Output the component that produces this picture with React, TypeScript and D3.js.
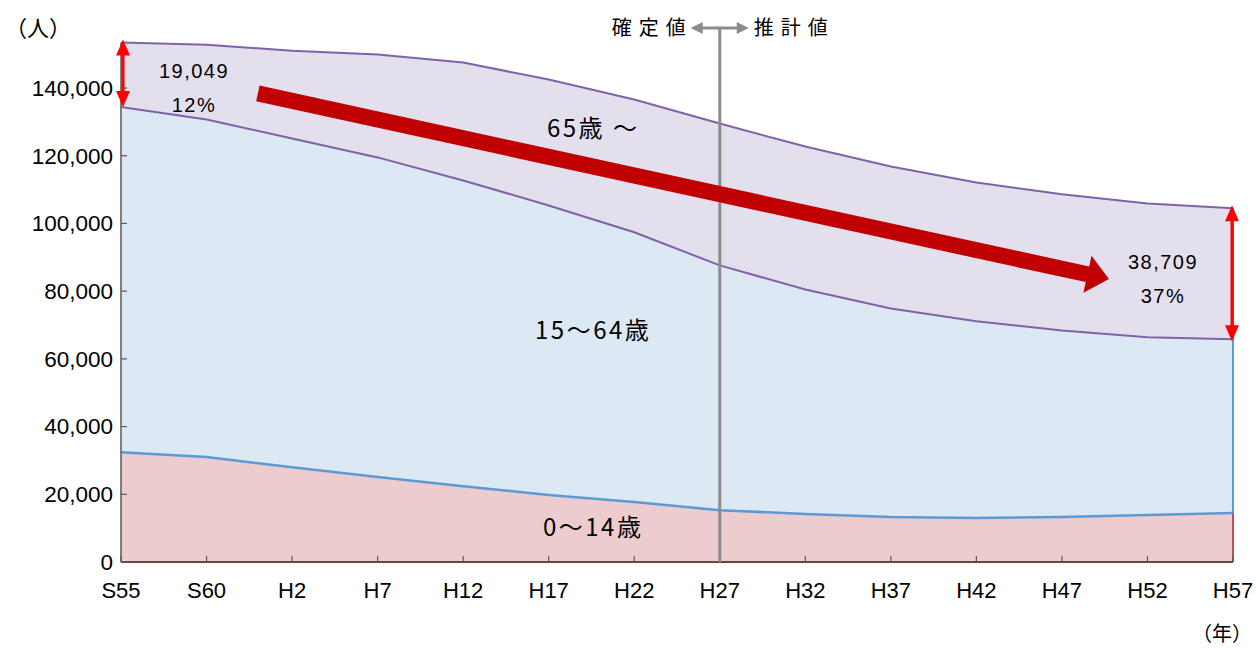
import { useEffect, useRef } from "react";
import * as d3 from "d3";

const years = ["S55", "S60", "H2", "H7", "H12", "H17", "H22", "H27", "H32", "H37", "H42", "H47", "H52", "H57"];
const youth = [32400, 31000, 28000, 25100, 22400, 19800, 17700, 15300, 14200, 13300, 13000, 13300, 13900, 14500];
const working = [102000, 99700, 97100, 94400, 90300, 85500, 79700, 72300, 66300, 61600, 58100, 55100, 52500, 51300];
const elderly = [19049, 22100, 25900, 30400, 34800, 37200, 39200, 41900, 42200, 41900, 41000, 40200, 39500, 38709];
const yTicks = [0, 20000, 40000, 60000, 80000, 100000, 120000, 140000];
const seriesLabels = ["0～14歳", "15～64歳", "65歳 ～"];

const JP = "'Noto Sans CJK JP', 'Liberation Sans', sans-serif";
const NUM = "'Liberation Sans', Arial, sans-serif";

const App: React.FC = () => {
  const svgRef = useRef<SVGSVGElement>(null);

  useEffect(() => {
    const svg = d3.select(svgRef.current);
    svg.selectAll("*").remove();

    const width = 1256;
    const height = 648;
    const margin = { top: 88, right: 23, bottom: 86, left: 121 };

    const x = d3.scalePoint<string>().domain(years).range([margin.left, width - margin.right]);
    const xi = d3.scaleLinear().domain([0, years.length - 1]).range([margin.left, width - margin.right]);
    const y = d3.scaleLinear().domain([0, 140000]).range([height - margin.bottom, margin.top]);

    const rows = years.map((yr, i) => ({ yr, youth: youth[i], working: working[i], elderly: elderly[i] }));
    const keys = ["youth", "working", "elderly"];
    const stacked = d3.stack<any>().keys(keys)(rows);

    const fills = ["#ecccce", "#dce8f4", "#e4dfec"];
    const lineColors = ["#5b9bd5", "#7e63a8", "#7e63a8"];

    const area = d3.area<any>().x((d) => x(d.data.yr)!).y0((d) => y(d[0])).y1((d) => y(d[1]));
    const line = d3.line<any>().x((d) => x(d.data.yr)!).y((d) => y(d[1]));

    stacked.forEach((s, i) => {
      svg.append("path").datum(s).attr("fill", fills[i]).attr("d", area);
    });

    // right edges of each layer
    const last = years.length - 1;
    const edgeColors = ["#c0504d", "#5b9bd5", "#7e63a8"];
    stacked.forEach((s, i) => {
      svg.append("line")
        .attr("x1", x(years[last])!).attr("x2", x(years[last])!)
        .attr("y1", y(s[last][0])).attr("y2", y(s[last][1]))
        .attr("stroke", edgeColors[i]).attr("stroke-width", 2);
    });

    // boundary lines
    stacked.forEach((s, i) => {
      svg.append("path").datum(s).attr("fill", "none").attr("stroke", lineColors[i])
        .attr("stroke-width", i === 0 ? 2.5 : 2).attr("d", line);
    });

    // axes
    const axisColor = "#595959";
    const baseY = y(0);
    svg.append("line").attr("x1", margin.left).attr("x2", width - margin.right)
      .attr("y1", baseY).attr("y2", baseY).attr("stroke", "#6b4545").attr("stroke-width", 2);
    svg.append("line").attr("x1", margin.left).attr("x2", margin.left)
      .attr("y1", baseY).attr("y2", y(elderly[0] + working[0] + youth[0])).attr("stroke", axisColor).attr("stroke-width", 1.5);

    yTicks.forEach((t) => {
      svg.append("line").attr("x1", margin.left).attr("x2", margin.left + 6)
        .attr("y1", y(t)).attr("y2", y(t)).attr("stroke", axisColor).attr("stroke-width", 1.2);
      svg.append("text").attr("x", margin.left - 8).attr("y", y(t)).attr("dy", "0.35em")
        .attr("text-anchor", "end").attr("font-family", NUM).attr("font-size", 22.5).attr("fill", "#000")
        .text(d3.format(",")(t));
    });

    years.forEach((yr) => {
      svg.append("line").attr("x1", x(yr)!).attr("x2", x(yr)!)
        .attr("y1", baseY).attr("y2", baseY - 6).attr("stroke", axisColor).attr("stroke-width", 1.2);
      svg.append("text").attr("x", x(yr)!).attr("y", baseY + 36)
        .attr("text-anchor", "middle").attr("font-family", NUM).attr("font-size", 22).attr("fill", "#000")
        .text(yr);
    });

    svg.append("text").attr("x", 38).attr("y", 36).attr("text-anchor", "middle")
      .attr("font-family", JP).attr("font-size", 22).text("（人）");
    svg.append("text").attr("x", 1222).attr("y", 641).attr("text-anchor", "middle")
      .attr("font-family", JP).attr("font-size", 20).text("（年）");

    // boundary between actual and estimate
    const xb = x("H27")!;
    const gray = "#8c8c8c";
    svg.append("line").attr("x1", xb).attr("x2", xb).attr("y1", 28).attr("y2", baseY)
      .attr("stroke", gray).attr("stroke-width", 3);
    svg.append("line").attr("x1", xb - 20).attr("x2", xb + 20).attr("y1", 28).attr("y2", 28)
      .attr("stroke", gray).attr("stroke-width", 3);
    svg.append("path").attr("d", `M${xb - 29},28 L${xb - 17},22 L${xb - 17},34 Z`).attr("fill", gray);
    svg.append("path").attr("d", `M${xb + 29},28 L${xb + 17},22 L${xb + 17},34 Z`).attr("fill", gray);
    svg.append("text").attr("x", xb - 108).attr("y", 28).attr("dy", "0.35em").attr("text-anchor", "start")
      .attr("font-family", JP).attr("font-size", 20).attr("letter-spacing", 7).text("確定値");
    svg.append("text").attr("x", xb + 34).attr("y", 28).attr("dy", "0.35em").attr("text-anchor", "start")
      .attr("font-family", JP).attr("font-size", 20).attr("letter-spacing", 7).text("推計値");

    // big trend arrow
    const ax1 = xi(1.6), ay1 = y(138400), ax2 = xi(11.55), ay2 = y(83600);
    const ang = Math.atan2(ay2 - ay1, ax2 - ax1);
    const headLen = 22, bodyHalf = 8, headHalf = 19;
    const bx = ax2 - headLen * Math.cos(ang), by = ay2 - headLen * Math.sin(ang);
    const nx = -Math.sin(ang), ny = Math.cos(ang);
    const pts: [number, number][] = [
      [ax1 + nx * bodyHalf, ay1 + ny * bodyHalf],
      [bx + nx * bodyHalf, by + ny * bodyHalf],
      [bx + nx * headHalf, by + ny * headHalf],
      [ax2, ay2],
      [bx - nx * headHalf, by - ny * headHalf],
      [bx - nx * bodyHalf, by - ny * bodyHalf],
      [ax1 - nx * bodyHalf, ay1 - ny * bodyHalf],
    ];
    svg.append("path").attr("d", "M" + pts.map((p) => p.join(",")).join("L") + "Z").attr("fill", "#c00000");

    // red double arrows for elderly share
    const dbl = (xp: number, yTop: number, yBot: number) => {
      svg.append("line").attr("x1", xp).attr("x2", xp).attr("y1", yTop + 10).attr("y2", yBot - 10)
        .attr("stroke", "#ff0000").attr("stroke-width", 3);
      svg.append("path").attr("d", `M${xp},${yTop} L${xp - 7},${yTop + 16} L${xp + 7},${yTop + 16} Z`).attr("fill", "#ff0000");
      svg.append("path").attr("d", `M${xp},${yBot} L${xp - 7},${yBot - 16} L${xp + 7},${yBot - 16} Z`).attr("fill", "#ff0000");
    };
    const s2 = stacked[2];
    dbl(x(years[0])! + 2, y(s2[0][1]) - 3, y(s2[0][0]));
    dbl(x(years[last])! - 1, y(s2[last][1]) - 3, y(s2[last][0]) + 2);

    const pct = (i: number) => Math.round((elderly[i] / (youth[i] + working[i] + elderly[i])) * 100) + "%";
    const annot = (cx: number, cy1: number, i: number) => {
      svg.append("text").attr("x", cx).attr("y", cy1).attr("dy", "0.35em").attr("text-anchor", "middle")
        .attr("font-family", NUM).attr("font-size", 20).attr("letter-spacing", 1.5).text(d3.format(",")(elderly[i]));
      svg.append("text").attr("x", cx).attr("y", cy1 + 34).attr("dy", "0.35em").attr("text-anchor", "middle")
        .attr("font-family", NUM).attr("font-size", 20).attr("letter-spacing", 1.5).text(pct(i));
    };
    annot(194, 71, 0);
    annot(1163, 262, last);

    // series labels
    const labelPos: [number, number][] = [[5.52, 10300], [5.52, 68300], [5.52, 128000]];
    seriesLabels.forEach((t, i) => {
      svg.append("text").attr("x", xi(labelPos[i][0])).attr("y", y(labelPos[i][1])).attr("dy", "0.35em")
        .attr("text-anchor", "middle").attr("font-family", JP).attr("font-size", 24).attr("letter-spacing", 2.5).text(t);
    });
  }, []);

  return (
    <svg ref={svgRef} width={1256} height={648} style={{ position: "absolute", left: 0, top: 0, background: "#fff" }}></svg>
  );
};

export default App;
